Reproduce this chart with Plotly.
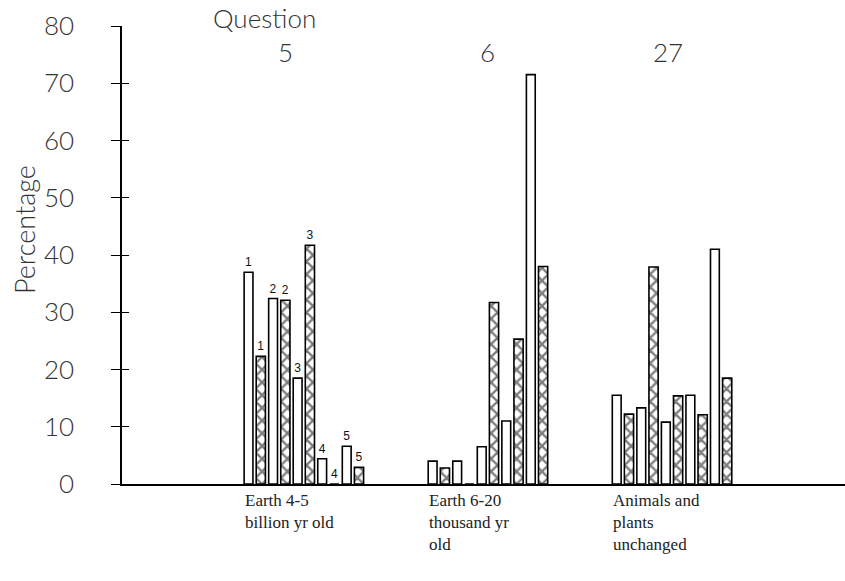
import plotly.graph_objects as go

# ---- data ----
questions = ["5", "6", "27"]
group_labels = ["Earth 4-5<br>billion yr old",
                "Earth 6-20<br>thousand yr<br>old",
                "Animals and<br>plants<br>unchanged"]
# five open/hatched pairs per question
open_values = [
    [37.0, 32.4, 18.5, 4.4, 6.6],
    [4.0, 4.0, 6.5, 11.0, 71.5],
    [15.5, 13.3, 10.8, 15.5, 41.0],
]
hatched_values = [
    [22.3, 32.1, 41.7, 0.0, 2.9],
    [2.8, 0.0, 31.7, 25.3, 38.0],
    [12.2, 37.9, 15.4, 12.1, 18.5],
]
pair_labels = [["1", "2", "3", "4", "5"], [""] * 5, [""] * 5]
y_ticks = [0, 10, 20, 30, 40, 50, 60, 70, 80]

GROUP_STEP = 15
ox, oy, ot, hx, hy, ht = [], [], [], [], [], []
for g in range(3):
    for i in range(5):
        ox.append(g * GROUP_STEP + 2 * i)
        oy.append(open_values[g][i])
        ot.append(pair_labels[g][i])
        hx.append(g * GROUP_STEP + 2 * i + 1)
        hy.append(hatched_values[g][i])
        ht.append(pair_labels[g][i])

sans = "Lato, Open Sans, DejaVu Sans, sans-serif"
label_font = dict(family="Liberation Sans, Arial, sans-serif", size=12, color="#111")
big_font = dict(family=sans, size=26, color="#333", weight=300)

# page geometry (body margin removed below)
PL, PT, PW, PH = 122, 26, 723, 458

fig = go.Figure()
fig.add_trace(go.Bar(
    x=ox, y=oy, text=ot, textposition="outside", textfont=label_font,
    constraintext="none", cliponaxis=False, width=0.72,
    marker=dict(color="white", line=dict(color="black", width=1.6)),
    showlegend=False,
))
fig.add_trace(go.Bar(
    x=hx, y=hy, text=ht, textposition="outside", textfont=label_font,
    constraintext="none", cliponaxis=False, width=0.75,
    marker=dict(color="white", line=dict(color="black", width=1.6),
                pattern=dict(shape="x", size=9, solidity=0.45,
                             fgcolor="black", bgcolor="white", fillmode="overlay")),
    showlegend=False,
))
# invisible trace to activate the inner-tick overlay axis
fig.add_trace(go.Scatter(x=[0], y=[0], yaxis="y2", mode="markers",
                         marker=dict(opacity=0), showlegend=False, hoverinfo="skip"))

fig.update_layout(
    width=845, height=581,
    margin=dict(l=PL, r=0, t=PT, b=581 - PT - PH),
    paper_bgcolor="white", plot_bgcolor="white",
    barmode="overlay",
    font=dict(family=sans, color="#222"),
    xaxis=dict(range=[-10.31, 48.6], showgrid=False, zeroline=False,
               showticklabels=False, ticks="", showline=True,
               linecolor="black", linewidth=1.5),
    yaxis=dict(range=[0, 80], tickvals=y_ticks, showgrid=False, zeroline=False,
               ticks="outside", ticklen=9, tickwidth=1.3, tickcolor="black",
               showline=True, linecolor="black", linewidth=1.5,
               ticklabelstandoff=32, tickfont=big_font),
    yaxis2=dict(range=[0, 80], tickvals=y_ticks, overlaying="y", side="left",
                showgrid=False, zeroline=False, showline=False,
                ticks="inside", ticklen=7, tickwidth=1.3, tickcolor="black",
                showticklabels=False),
)

fig.add_annotation(text="Percentage", xref="paper", yref="paper",
                   x=(25 - PL) / PW, y=1 - (230 - PT) / PH, textangle=-90,
                   showarrow=False, xanchor="center", yanchor="middle",
                   font=dict(family=sans, size=27, color="#333", weight=300))
fig.add_annotation(text="Question", xref="paper", yref="paper", x=(264 - PL) / PW,
                   y=1 + (PT - 18) / PH, showarrow=False, xanchor="center",
                   yanchor="middle", font=big_font)
q_px = [285, 487, 668]
for q, px in zip(questions, q_px):
    fig.add_annotation(text=q, xref="paper", yref="paper", x=(px - PL) / PW,
                       y=1 - (52 - PT) / PH, showarrow=False, xanchor="center",
                       yanchor="middle", font=big_font)

for g, lab in enumerate(group_labels):
    fig.add_annotation(text=lab, xref="x", yref="paper", x=g * GROUP_STEP - 0.45,
                       y=-(489 - 484) / PH, showarrow=False, xanchor="left",
                       yanchor="top", align="left",
                       font=dict(family="Liberation Serif, Times New Roman, serif",
                                 size=17, color="#222"))

fig.write_html("out.html",
               config={"displayModeBar": False},
               post_script="document.body.style.margin='0';"
                           "document.body.style.overflow='hidden';")
